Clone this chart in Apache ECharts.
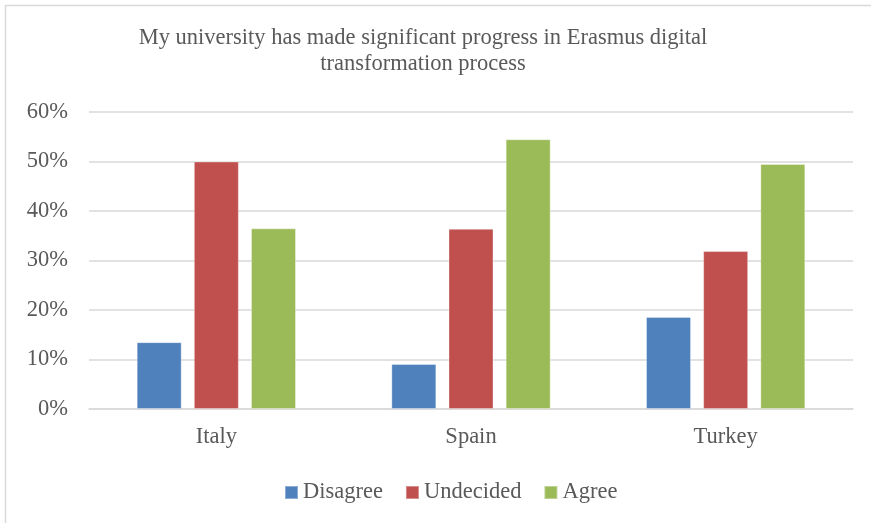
<!DOCTYPE html>
<html>
<head>
<meta charset="utf-8">
<script src="https://cdn.jsdelivr.net/npm/echarts@6/dist/echarts.min.js"></script>
<style>
html,body{margin:0;padding:0;background:#fff;}
#c{width:871px;height:523px;}
</style>
</head>
<body>
<div id="c"></div>
<script>
const titleText = 'My university has made significant progress in Erasmus digital\ntransformation process';
const categories = ['Italy', 'Spain', 'Turkey'];
const seriesNames = ['Disagree', 'Undecided', 'Agree'];
const disagree = [13.5, 9.1, 18.6];
const undecided = [50.0, 36.4, 31.9];
const agree = [36.5, 54.5, 49.5];
const yTicks = [0, 10, 20, 30, 40, 50, 60];
const colors = ['#4F81BD', '#C0504D', '#9BBB59'];

const font = '"Liberation Serif", "DejaVu Serif", serif';
const chart = echarts.init(document.getElementById('c'), null, {renderer: 'canvas'});
const values = [disagree, undecided, agree];

chart.setOption({
  animation: false,
  backgroundColor: '#fff',
  color: colors,
  graphic: [{
    type: 'rect',
    shape: {x: 5.5, y: 5.5, width: 1000, height: 700},
    style: {fill: 'none', stroke: '#d9d9d9', lineWidth: 1.5},
    silent: true
  }],
  title: {
    text: titleText,
    left: 418,
    textAlign: 'center',
    top: 20,
    textStyle: {fontFamily: font, fontSize: 22.5, fontWeight: 'normal', color: '#595959', lineHeight: 26}
  },
  legend: {
    data: seriesNames,
    top: 476,
    left: 279,
    itemWidth: 13,
    itemHeight: 13,
    itemGap: 22,
    icon: 'rect',
    textStyle: {fontFamily: font, fontSize: 22.5, color: '#595959', padding: [0, 0, 0, 0]}
  },
  grid: {left: 89, right: 18, top: 112, bottom: 114, containLabel: false},
  xAxis: {
    type: 'category',
    data: categories,
    axisLine: {lineStyle: {color: '#d9d9d9', width: 1.5}},
    axisTick: {show: false},
    axisLabel: {fontFamily: font, fontSize: 22.5, color: '#595959', margin: 17}
  },
  yAxis: {
    type: 'value',
    min: yTicks[0],
    max: yTicks[yTicks.length - 1],
    interval: 10,
    axisLine: {show: false},
    axisTick: {show: false},
    splitLine: {lineStyle: {color: '#d9d9d9', width: 1.5}},
    axisLabel: {fontFamily: font, fontSize: 22.5, color: '#595959', margin: 21, formatter: v => v + '%'}
  },
  series: seriesNames.map((n, i) => ({
    name: n,
    type: 'bar',
    data: values[i],
    barWidth: 45,
    barGap: '27%',
    itemStyle: {color: colors[i], borderColor: 'rgba(255,255,255,0.35)', borderWidth: 1}
  }))
});
</script>
</body>
</html>
